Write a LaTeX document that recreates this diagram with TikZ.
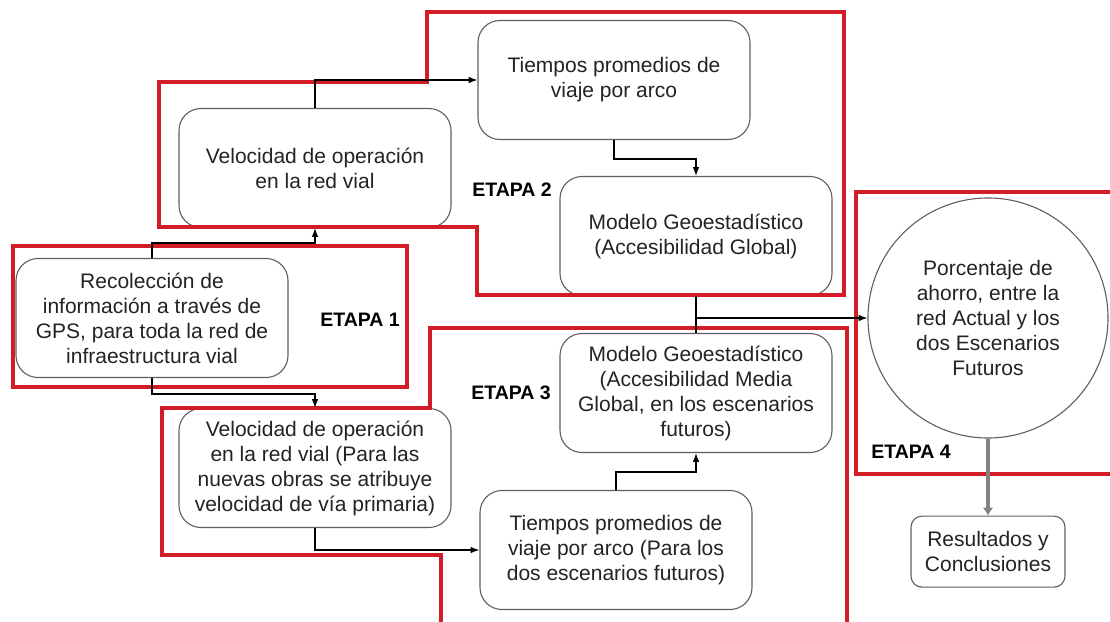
\documentclass[tikz,border=0pt]{standalone}
\usepackage{fontspec}
\setmainfont{Liberation Sans}
\usetikzlibrary{arrows.meta,positioning}
\definecolor{etapared}{RGB}{210,28,38}
\definecolor{boxgray}{RGB}{95,95,95}
\definecolor{txtgray}{RGB}{35,35,35}

\begin{document}
\begin{tikzpicture}[
  x=1pt, y=-1pt,
  >=Latex,
  every node/.style={font=\fontsize{21}{25}\selectfont, text=txtgray},
  box/.style={draw=boxgray, line width=1.1pt, rounded corners=22pt, fill=white,
    align=center, minimum width=272pt, minimum height=119pt, inner sep=2pt},
  roundbox/.style={circle, draw=boxgray, line width=1.1pt, fill=white,
    align=center, minimum size=240pt, inner sep=0pt},
  smallbox/.style={box, minimum width=154pt, minimum height=71pt, rounded corners=11pt},
  etapa/.style={font=\bfseries\fontsize{19.5}{22}\selectfont, text=black},
  outline/.style={draw=etapared, line width=3.3pt},
  line/.style={line width=1.3pt, black},
  link/.style={line, ->},
  bigarrow/.style={-{Latex[length=8pt,width=11pt]}, line width=4.5pt, draw=gray!60!black!70},
]
\fill[white] (0,0) rectangle (1110,621);
\useasboundingbox (0,0) rectangle (1110,621);

% --- Nodes -----------------------------------------------------
% Etapa 2 (red actual)
\node[box] (TiempoArco) at (614,80) {Tiempos promedios de\\viaje por arco};
\node[box] (VelOp) at (315,168) {Velocidad de operación\\en la red vial};
\node[box] (ModGeo) at (696,236) {Modelo Geoestadístico\\(Accesibilidad Global)};

% Etapa 1 (GPS)
\node[box] (Recol) at (152,318) {Recolección de\\información a través de\\GPS, para toda la red de\\infraestructura vial};

% Etapa 3 (escenarios futuros)
\node[box] (ModGeoF) at (696,393) {Modelo Geoestadístico\\(Accesibilidad Media\\Global, en los escenarios\\futuros)};
\node[box] (VelOpF) at (315,468) {Velocidad de operación\\en la red vial (Para las\\nuevas obras se atribuye\\velocidad de vía primaria)};
\node[box] (TiempoArcoF) at (616,550) {Tiempos promedios de\\viaje por arco (Para los\\dos escenarios futuros)};

% Etapa 4 (ahorro) and results
\node[roundbox] (Ahorro) at (988,318) {Porcentaje de\\ahorro, entre la\\red Actual y los\\dos Escenarios\\Futuros};
\node[smallbox, below=77pt of Ahorro] (Result) {Resultados y\\Conclusiones};

% Stage labels
\node[etapa] (E1) at (360,320) {ETAPA 1};
\node[etapa] (E2) at (512,190) {ETAPA 2};
\node[etapa] (E3) at (511,393) {ETAPA 3};
\node[etapa] (E4) at (911,452) {ETAPA 4};

% --- Stage outlines (red) -------------------------------------
\draw[outline] (13,246) rectangle (407,387);
\draw[outline] (159,82) -- (427,82) -- (427,12) -- (844,12) -- (844,295)
  -- (477,295) -- (477,227) -- (159,227) -- cycle;
\draw[outline] (441,630) -- (441,555) -- (162,555) -- (162,408) -- (430,408)
  -- (430,328) -- (847,328) -- (847,630);
\draw[outline] (1120,192) -- (856,192) -- (856,474) -- (1120,474);

% --- Flow -------------------------------------------------------
\draw[link] (Recol.north) -- ++(0,-15) -| (VelOp.south);
\draw[link] (VelOp.north) |- (TiempoArco.west);
\draw[link] (TiempoArco.south) -- ++(0,19) -| (ModGeo.north);
\draw[line] (ModGeo.south) -- (ModGeoF.north);
\draw[link] (ModGeo.south |- Ahorro.west) -- (Ahorro.west);

\draw[link] (Recol.south) -- ++(0,16) -| (VelOpF.north);
\draw[link] (VelOpF.south) |- (TiempoArcoF.west);
\draw[link] (TiempoArcoF.north) -- ++(0,-18) -| (ModGeoF.south);

\draw[bigarrow] (Ahorro.south) -- (Result.north);

\end{tikzpicture}
\end{document}
